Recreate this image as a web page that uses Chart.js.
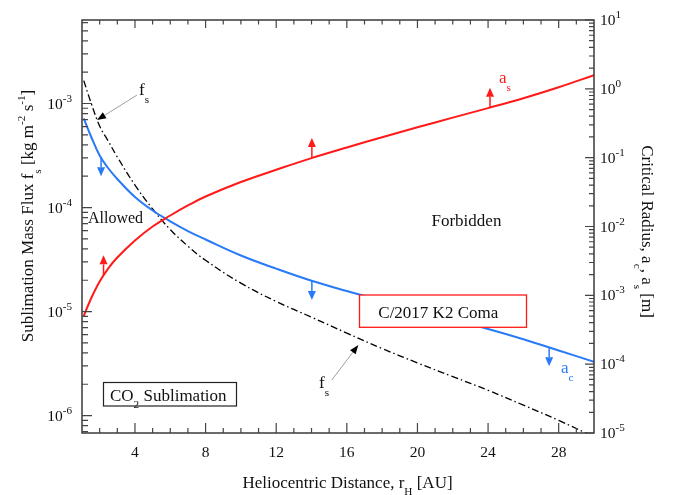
<!DOCTYPE html>
<html>
<head>
<meta charset="utf-8">
<script src="https://cdn.jsdelivr.net/npm/chart.js@4.4.1/dist/chart.umd.min.js"></script>
<style>
  html, body { margin: 0; padding: 0; background: #fff; }
</style>
</head>
<body>
<canvas id="fluxChart" width="680" height="495"></canvas>
<script>
// heliocentric distance samples [AU]
var distance = [1.1, 1.5, 2, 2.5, 3, 4, 5, 6, 7, 8, 10, 12, 14, 16, 18, 20, 22, 24, 26, 28, 30];
// CO2 sublimation mass flux f_s [kg m^-2 s^-1], left axis
var fluxFs = [1.66e-3, 1.03e-3, 6.08e-4, 4.31e-4, 3.06e-4, 1.644e-4, 9.68e-5, 6.14e-5, 4.25e-5, 3.11e-5, 1.875e-5,
              1.25e-5, 8.83e-6, 6.21e-6, 4.41e-6, 3.21e-6, 2.37e-6, 1.75e-6, 1.26e-6, 8.99e-7, 6.25e-7];
// critical radius a_c [m], right axis
var radiusAc = [0.371, 0.2065, 0.1075, 0.0696, 0.049, 0.0268, 0.01706, 0.01189, 8.59e-3, 6.47e-3, 3.79e-3,
                2.44e-3, 1.63e-3, 1.155e-3, 8.38e-4, 6.1e-4, 4.43e-4, 3.24e-4, 2.3e-4, 1.58e-4, 1.086e-4];
// critical radius a_s [m], right axis
var radiusAs = [5.01e-4, 8.85e-4, 1.59e-3, 2.49e-3, 3.54e-3, 6.25e-3, 1.0e-2, 1.445e-2, 2.02e-2, 2.73e-2, 4.43e-2,
                6.67e-2, 9.86e-2, 0.1406, 0.198, 0.276, 0.382, 0.525, 0.731, 1.056, 1.578];

var xTicks = [4, 8, 12, 16, 20, 24, 28];
var fluxTicks = [1e-6, 1e-5, 1e-4, 1e-3];
var radiusTicks = [1e-5, 1e-4, 1e-3, 1e-2, 1e-1, 1e0, 1e1];

// little direction arrows sitting on the curves [distance, radius]
var redArrows = [[2.22, 1.95e-3], [14.02, 0.099], [24.11, 0.53]];
var blueArrows = [[2.08, 0.101], [14.02, 1.62e-3], [27.46, 1.76e-4]];

var red = 'rgb(255, 25, 25)';
var blue = 'rgb(40, 122, 246)';
var serif = '"Liberation Serif", "Times New Roman", serif';

function pts(ys) {
    return distance.map(function (d, i) { return { x: d, y: ys[i] }; });
}

// draw text made of [text, 'sub'|'sup'] pieces
function rich(c, parts, x, y, size, align, small) {
    var k = small || 0.66;
    var widths = parts.map(function (p) {
        c.font = (p[1] ? size * k : size) + 'px ' + serif;
        return c.measureText(p[0]).width;
    });
    var total = widths.reduce(function (s, w) { return s + w; }, 0);
    if (align === 'center') x -= total / 2;
    else if (align === 'right') x -= total;
    c.textAlign = 'left';
    c.textBaseline = 'alphabetic';
    parts.forEach(function (p, i) {
        var dy = p[1] === 'sub' ? size * 0.45 : (p[1] === 'sup' ? -size * 0.45 : 0);
        c.font = (p[1] ? size * k : size) + 'px ' + serif;
        c.fillText(p[0], x, y + dy);
        x += widths[i];
    });
}

function arrow(c, x0, y0, x1, y1, shaftColor, shaftWidth, headColor, headLen, headW) {
    var ang = Math.atan2(y1 - y0, x1 - x0);
    var bx = x1 - Math.cos(ang) * headLen, by = y1 - Math.sin(ang) * headLen;
    c.strokeStyle = shaftColor;
    c.lineWidth = shaftWidth;
    c.beginPath();
    c.moveTo(x0, y0);
    c.lineTo(bx, by);
    c.stroke();
    c.fillStyle = headColor;
    c.beginPath();
    c.moveTo(x1, y1);
    c.lineTo(bx + Math.sin(ang) * headW / 2, by - Math.cos(ang) * headW / 2);
    c.lineTo(bx - Math.sin(ang) * headW / 2, by + Math.cos(ang) * headW / 2);
    c.closePath();
    c.fill();
}

var decorations = {
    id: 'decorations',
    afterDraw: function (chart) {
        var c = chart.ctx, a = chart.chartArea;
        var sx = chart.scales.x, sl = chart.scales.yL, sr = chart.scales.yR;
        c.save();

        // legend-like boxes
        c.fillStyle = '#fff';
        c.fillRect(359.5, 295, 167, 32.3);
        c.strokeStyle = red;
        c.lineWidth = 1.3;
        c.strokeRect(359.5, 295, 167, 32.3);
        c.fillStyle = '#111';
        rich(c, [['C/2017 K2 Coma']], 378.3, 318, 17, 'left');

        c.fillStyle = '#fff';
        c.fillRect(103.5, 382.5, 133, 23.5);
        c.strokeStyle = '#222';
        c.lineWidth = 1.2;
        c.strokeRect(103.5, 382.5, 133, 23.5);
        c.fillStyle = '#111';
        rich(c, [['CO'], ['2', 'sub'], [' Sublimation']], 110, 400.5, 17, 'left');

        // region labels
        rich(c, [['Allowed']], 88, 223, 16, 'left');
        rich(c, [['Forbidden']], 431.5, 226, 17, 'left');

        // curve labels
        rich(c, [['f'], ['s', 'sub']], 139, 95, 17, 'left');
        rich(c, [['f'], ['s', 'sub']], 319, 388, 17, 'left');
        c.fillStyle = red;
        rich(c, [['a'], ['s', 'sub']], 499, 83, 17, 'left');
        c.fillStyle = blue;
        rich(c, [['a'], ['c', 'sub']], 561, 373, 17, 'left');

        // pointers to the f_s curve
        var p1x = sx.getPixelForValue(1.85), p1y = sl.getPixelForValue(6.93e-4);
        arrow(c, p1x + 40, p1y - 25, p1x, p1y, '#888', 0.8, '#000', 9, 7);
        var p2x = sx.getPixelForValue(16.65), p2y = sl.getPixelForValue(4.76e-6);
        arrow(c, p2x - 26.6, p2y + 35, p2x, p2y, '#888', 0.8, '#000', 9, 7);

        // direction arrows
        redArrows.forEach(function (p) {
            var x = sx.getPixelForValue(p[0]), y = sr.getPixelForValue(p[1]);
            arrow(c, x, y, x, y - 20, red, 1.5, red, 9, 8);
        });
        blueArrows.forEach(function (p) {
            var x = sx.getPixelForValue(p[0]), y = sr.getPixelForValue(p[1]);
            arrow(c, x, y, x, y + 19, blue, 1.5, blue, 9, 8);
        });

        // frame
        c.strokeStyle = '#3a3a3a';
        c.lineWidth = 1.5;
        c.strokeRect(a.left, a.top, a.right - a.left, a.bottom - a.top);

        // inward tick marks
        c.strokeStyle = '#444';
        c.lineWidth = 1.2;
        c.beginPath();
        for (var v = 2; v < 30; v++) {
            var px = sx.getPixelForValue(v);
            var major = xTicks.indexOf(v) >= 0;
            c.moveTo(px, a.bottom); c.lineTo(px, a.bottom - (major ? 10 : 5));
            c.moveTo(px, a.top); c.lineTo(px, a.top + (major ? 8 : 4.5));
        }
        for (var e = -7; e <= 1; e++) {
            for (var k = 1; k <= 9; k++) {
                var val = k * Math.pow(10, e);
                if (val >= sl.min && val <= sl.max) {
                    var yl = sl.getPixelForValue(val);
                    c.moveTo(a.left, yl); c.lineTo(a.left + (k === 1 ? 10 : 6), yl);
                }
                if (val >= sr.min && val <= sr.max) {
                    var yr = sr.getPixelForValue(val);
                    c.moveTo(a.right, yr); c.lineTo(a.right - (k === 1 ? 9 : 5), yr);
                }
            }
        }
        c.stroke();

        // tick labels
        c.fillStyle = '#111';
        xTicks.forEach(function (v) {
            rich(c, [[String(v)]], sx.getPixelForValue(v), a.bottom + 24, 15.5, 'center');
        });
        fluxTicks.forEach(function (v) {
            var ex = Math.round(Math.log10(v));
            rich(c, [['10'], [String(ex), 'sup']], a.left - 10, sl.getPixelForValue(v) + 5, 15.5, 'right', 0.72);
        });
        radiusTicks.forEach(function (v) {
            var ex = Math.round(Math.log10(v));
            rich(c, [['10'], [String(ex), 'sup']], a.right + 6, sr.getPixelForValue(v) + 5, 15.5, 'left', 0.72);
        });

        // axis titles
        rich(c, [['Heliocentric Distance, r'], ['H', 'sub'], [' [AU]']], 347.5, 487.5, 17, 'center');
        c.save();
        c.translate(33, 216);
        c.rotate(-Math.PI / 2);
        rich(c, [['Sublimation Mass Flux f'], ['s', 'sub'], [' [kg m'], ['-2', 'sup'], [' s'], ['-1', 'sup'], [']']], 0, 0, 17, 'center');
        c.restore();
        c.save();
        c.translate(642, 231.5);
        c.rotate(Math.PI / 2);
        rich(c, [['Critical Radius, a'], ['c', 'sub'], [', a'], ['s', 'sub'], [' [m]']], 0, 0, 17, 'center');
        c.restore();

        c.restore();
    }
};

var ctx = document.getElementById('fluxChart').getContext('2d');
var fluxChart = new Chart(ctx, {
    type: 'line',
    data: {
        datasets: [{
            label: 'a_s',
            data: pts(radiusAs),
            yAxisID: 'yR',
            borderColor: red,
            borderWidth: 2,
            pointRadius: 0,
            tension: 0.4
        }, {
            label: 'a_c',
            data: pts(radiusAc),
            yAxisID: 'yR',
            borderColor: blue,
            borderWidth: 2,
            pointRadius: 0,
            tension: 0.4
        }, {
            label: 'f_s',
            data: pts(fluxFs),
            yAxisID: 'yL',
            borderColor: '#000',
            borderWidth: 1.3,
            borderDash: [7, 3, 1.5, 3],
            pointRadius: 0,
            tension: 0.4
        }]
    },
    options: {
        responsive: false,
        animation: false,
        devicePixelRatio: 1,
        layout: { padding: { top: 20, left: 0, right: 0, bottom: 0 } },
        plugins: {
            legend: { display: false },
            tooltip: { enabled: false }
        },
        scales: {
            x: {
                type: 'linear',
                min: 1,
                max: 30,
                ticks: { display: false },
                grid: { display: false },
                border: { display: false },
                afterFit: function (s) { s.height = 62; }
            },
            yL: {
                type: 'logarithmic',
                position: 'left',
                min: 6.8e-7,
                max: 6.35e-3,
                ticks: { display: false },
                grid: { display: false },
                border: { display: false },
                afterFit: function (s) { s.width = 82; }
            },
            yR: {
                type: 'logarithmic',
                position: 'right',
                min: 1e-5,
                max: 10,
                ticks: { display: false },
                grid: { display: false },
                border: { display: false },
                afterFit: function (s) { s.width = 86; }
            }
        }
    },
    plugins: [decorations]
});
</script>
</body>
</html>
